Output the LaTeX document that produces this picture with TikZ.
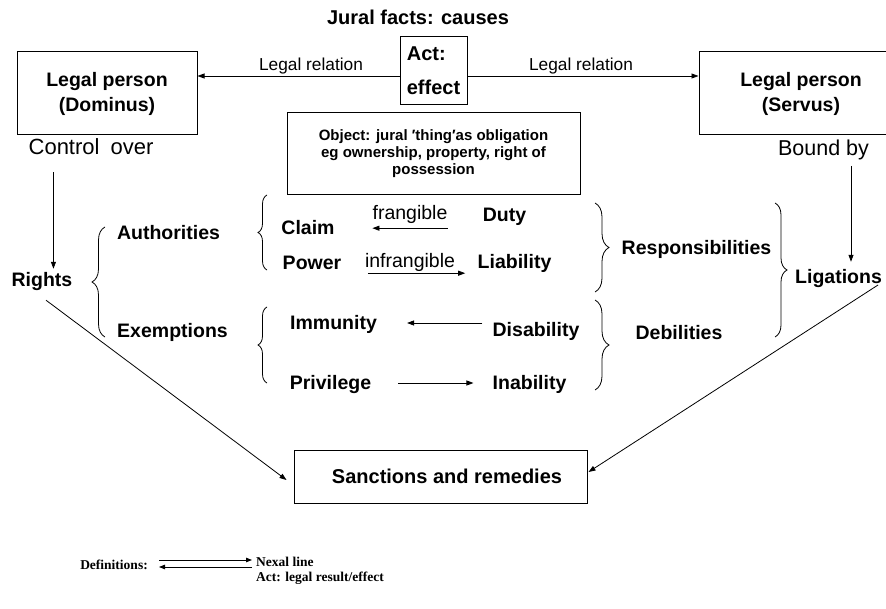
\documentclass[tikz,border=0pt]{standalone}
\usepackage{fontspec}
\setmainfont{Liberation Sans}
\newfontfamily\timesf{Liberation Serif}
\usetikzlibrary{arrows.meta,decorations.pathreplacing}
\begin{document}
\begin{tikzpicture}[x=1pt,y=-1pt,
  box/.style={draw,line width=1pt,inner sep=0pt,align=center},
  bl/.style={font=\fontsize{19.5}{24}\selectfont\bfseries,inner sep=0pt,text height=14pt,text depth=0pt},
  rg/.style={font=\fontsize{19.5}{24}\selectfont,inner sep=0pt,text height=14pt,text depth=0pt},
  lr/.style={font=\fontsize{17.3}{20}\selectfont,inner sep=0pt,text height=12.4pt,text depth=0pt},
  arr/.style={line width=0.8pt,-{Triangle[length=7pt,width=5pt]}},
  ln/.style={line width=0.8pt},
  brc/.style={decorate,decoration={brace,amplitude=#1},line width=0.8pt},
  defn/.style={font=\timesf\fontsize{13.5}{15}\selectfont\bfseries,inner sep=0pt,text height=9pt,text depth=0pt},
]
\useasboundingbox (0,0) rectangle (886,609);
\clip (0,0) rectangle (886,609);

% title
\node[bl,font=\fontsize{20}{24}\selectfont\bfseries] (title) at (418,18) {Jural facts: causes};

% boxes
\node[box,minimum width=180pt,minimum height=83pt,font=\fontsize{19.5}{25}\selectfont\bfseries] (dom) at (107,93.5) {Legal person\\(Dominus)};
\node[box,minimum width=204pt,minimum height=83pt,font=\fontsize{19.5}{25}\selectfont\bfseries] (serv) at (801,93.5) {Legal person\\(Servus)};
\node[box,minimum width=67pt,minimum height=68pt,align=left,font=\fontsize{20}{34}\selectfont\bfseries] (act) at (433.5,71) {Act:\\effect};
\node[box,minimum width=293pt,minimum height=82pt,font=\fontsize{15}{17}\selectfont\bfseries] (obj) at (433.5,154) {Object: jural \char"2032thing\char"2032as obligation\\eg ownership, property, right of\\possession};
\node[box,minimum width=293pt,minimum height=53pt,font=\fontsize{20}{24}\selectfont\bfseries] (sanc) at (440.5,476.5) {\hspace{13pt}Sanctions and remedies};

% legal relation arrows
\coordinate (actl) at ([yshift=-5pt]act.west);
\coordinate (actr) at ([yshift=-5pt]act.east);
\draw[arr] (actl) -- (actl -| dom.east);
\draw[arr] (actr) -- (actr -| serv.west);
\node[lr] (lrl) at (311,64) {Legal relation};
\node[lr] (lrr) at (581,64) {Legal relation};

% control / bound
\node[rg,font=\fontsize{22}{26}\selectfont,text height=15.8pt] (ctrl) at (91,147) {Control\hspace{11pt}over};
\node[rg,font=\fontsize{21.5}{24}\selectfont,text height=15.4pt] (bound) at (823.5,148) {Bound by};

% labels
\node[bl] (rights) at (42,280) {Rights};
\node[bl] (auth) at (168.5,233) {Authorities};
\node[bl] (exem) at (172.5,331) {Exemptions};
\node[bl] (claim) at (308,228) {Claim};
\node[bl] (power) at (312,263) {Power};
\node[rg] (frang) at (410,213) {frangible};
\node[rg] (infr) at (410,261) {infrangible};
\node[bl] (duty) at (504.5,215) {Duty};
\node[bl] (liab) at (514.5,262) {Liability};
\node[bl] (resp) at (696.5,248) {Responsibilities};
\node[bl] (lig) at (838.5,277) {Ligations};
\node[bl] (immun) at (333.5,323) {Immunity};
\node[bl] (priv) at (330.5,383) {Privilege};
\node[bl] (disab) at (536,330) {Disability};
\node[bl] (inab) at (529.5,383) {Inability};
\node[bl] (debil) at (679,333) {Debilities};

% vertical arrows
\coordinate (c1) at ([shift={(25pt,-17pt)}]ctrl.south west);
\coordinate (c2) at ([shift={(11pt,4pt)}]rights.north);
\draw[arr] (c1) -- (c1 |- c2);
\coordinate (b1) at ([shift={(27.5pt,-10pt)}]bound.south);
\coordinate (b2) at ([shift={(12.5pt,8pt)}]lig.north);
\draw[arr] (b1) -- (b1 |- b2);

% relation arrows
\draw[arr] ([yshift=-8pt]frang.south east) -- ([yshift=-8pt]frang.south west);
\draw[arr] ([shift={(3pt,-5pt)}]infr.south west) -- ([shift={(10pt,-5pt)}]infr.south east);
\coordinate (d1) at ([shift={(-10pt,7pt)}]disab.west);
\coordinate (d2) at ([xshift=30pt]immun.east);
\draw[arr] (d1) -- (d1 -| d2);
\draw[arr] ([xshift=27pt]priv.east) -- ([xshift=-19pt]inab.west);

% diagonals to sanctions
\draw[arr] ([shift={(4pt,-13pt)}]rights.south) -- ([shift={(-7pt,-3.5pt)}]sanc.west);
\draw[arr] ([shift={(-4pt,-8pt)}]lig.east) -- ([shift={(1pt,4.5pt)}]sanc.east);

% braces
\draw[brc=13pt] (105,337) -- (105,227);
\draw[brc=9pt] (267,270) -- (267,195);
\draw[brc=9pt] (267,383) -- (267,307);
\draw[brc=14pt] (595,203) -- (595,292);
\draw[brc=14pt] (595,300) -- (595,390);
\draw[brc=12pt] (775,203) -- (775,337);

% definitions
\node[defn] (deft) at (114,565) {Definitions:};
\coordinate (da) at (159,560);
\coordinate (db) at (252,560);
\coordinate (dc) at (252,567);
\coordinate (dd) at (159,567);
\draw[arr,-{Triangle[length=6pt,width=4.5pt]}] (da) -- (db);
\draw[arr,-{Triangle[length=6pt,width=4.5pt]}] (dc) -- (dd);
\node[defn,anchor=west] (nex) at (256,562) {Nexal line};
\node[defn,anchor=west] (actd) at (256,577) {Act: legal result/effect};
\end{tikzpicture}
\end{document}
